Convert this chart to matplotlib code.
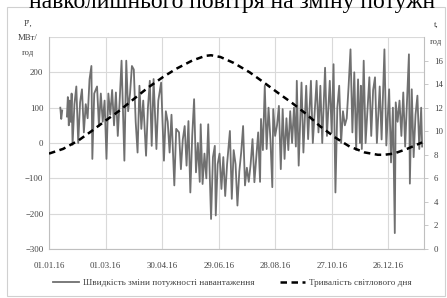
import numpy as np
import matplotlib
matplotlib.use("Agg")
import matplotlib.pyplot as plt
from matplotlib.patches import Rectangle

plt.rcParams['font.family'] = ['Liberation Serif', 'DejaVu Serif']

# days since 01.01.16 and rate of load change, MW/h
rate_days = [12, 13, 14, 16, 19, 20, 21, 22, 23, 24, 25, 27, 29, 31, 33, 35, 37, 39, 41, 43,
             45, 46, 48, 51, 53, 55, 57, 59, 61, 63, 65, 67, 69, 71, 73, 75, 77, 80, 82, 84,
             86, 88, 90, 92, 94, 96, 98, 100, 103, 105, 107, 109, 111, 114, 116, 119, 122, 124, 126, 128,
             130, 133, 135, 138, 140, 142, 144, 146, 148, 150, 152, 154, 156, 158, 160, 161, 163, 165, 167, 169,
             172, 174, 176, 177, 179, 181, 183, 185, 187, 189, 192, 194, 196, 198, 200, 202, 204, 206, 208, 210,
             212, 214, 216, 218, 220, 222, 224, 225, 227, 229, 231, 233, 235, 237, 238, 240, 242, 244, 246, 248,
             250, 252, 254, 256, 258, 260, 262, 263, 265, 268, 270, 273, 275, 278, 280, 284, 286, 288, 290, 293,
             295, 298, 300, 302, 304, 306, 308, 310, 312, 314, 316, 318, 320, 322, 324, 326, 328, 330, 331, 332,
             334, 336, 340, 342, 344, 346, 348, 351, 353, 356, 358, 360, 361, 363, 365, 367, 368, 370, 372, 374,
             376, 378, 382, 383, 385, 387, 389, 391, 393, 395, 396]
rate_vals = [100, 68, 92, np.nan, 75, 130, 50, 120, 60, 140, -5, 110, 160, 0, 115, 152, 30, 110, 70, 180,
             218, -45, 140, 160, 48, 140, 60, 120, -45, 140, 80, 150, 50, 143, 20, 120, 233, -50, 233, 90,
             140, 218, 208, 60, -27, 162, 40, 120, -36, 100, 176, -8, 181, -17, 120, 171, -50, 90, 60, -27,
             80, -120, 40, 30, -74, 10, 48, -64, 62, -140, 20, 124, -83, 0, -110, 53, -116, -30, -100, 53,
             -215, -40, -8, -205, -60, -30, -130, -40, -150, -60, 34, -158, -20, -60, -177, -80, -26, 48, -120, -70,
             -110, -60, 11, -111, -40, 30, -110, 68, -20, 162, -17, 100, 10, -125, 96, 20, 50, 105, -74, 96,
             -45, 70, -20, 90, 0, 100, -10, 176, -64, 171, -27, 162, 11, 176, 0, 176, 30, 162, 0, 213,
             20, 176, 30, 223, -140, 100, 162, 0, 90, 50, 70, 162, 265, 30, 200, -20, 180, 0, 162, -17,
             233, 0, 186, 20, 150, 186, 0, 160, 10, 265, -7, 100, 152, -55, 100, -255, 115, 60, 120, 20,
             143, -10, 251, -115, 152, -40, 80, 134, -17, 100, -10]

# daylight duration, hours
day_days = [0, 15, 31, 45, 60, 74, 91, 105, 121, 135, 152, 166, 172, 182, 196, 213, 227, 244,
            258, 274, 288, 305, 319, 335, 349, 356, 366, 380, 396]
day_vals = [8.1, 8.5, 9.2, 10.0, 10.9, 11.7, 12.8, 13.7, 14.6, 15.3, 16.0, 16.4, 16.45, 16.3, 15.8,
            15.0, 14.2, 13.2, 12.4, 11.4, 10.4, 9.4, 8.7, 8.2, 8.0, 8.0, 8.1, 8.5, 9.05]

tick_days = [0, 60, 120, 180, 240, 300, 360]
tick_labels = ['01.01.16', '01.03.16', '30.04.16', '29.06.16', '28.08.16', '27.10.16', '26.12.16']
left_ticks = [-300, -200, -100, 0, 100, 200]

txt = '#404040'
grid = '#d9d9d9'
fs = 6.3

fig = plt.figure(figsize=(4.47, 2.98), dpi=100)
fig.add_artist(Rectangle((7 / 447, 2 / 298), 438 / 447, 289 / 298, transform=fig.transFigure,
                         fill=False, edgecolor='#d0d0d0', lw=0.8))
fig.text(0.065, 1 - 8 / 298, 'навколишнього повітря на зміну потужн', fontsize=17,
         va='baseline', ha='left', color='black')

ax = fig.add_axes([49 / 447, 1 - 249 / 298, 375 / 447, 212 / 298])
ax.plot(rate_days, rate_vals, color='#707070', lw=1.3, label='Швидкість зміни потужності навантаження')
ax.set_xlim(0, 398)
ax.set_ylim(-300, 300)
ax.set_yticks(left_ticks)
ax.axhline(300, color=grid, lw=0.8, zorder=0)
ax.set_xticks(tick_days)
ax.set_xticklabels(tick_labels)
ax.grid(True, color=grid, lw=0.8)
ax.set_axisbelow(True)
for s in ['top', 'right']:
    ax.spines[s].set_visible(False)
for s in ['left', 'bottom']:
    ax.spines[s].set_color('#bfbfbf')
    ax.spines[s].set_linewidth(0.8)
ax.tick_params(axis='both', length=0, labelsize=fs, colors=txt)
ax.tick_params(axis='x', pad=9)
ax.tick_params(axis='y', pad=4)

ax2 = ax.twinx()
ax2.plot(day_days, day_vals, color='black', lw=1.8, dashes=(2.6, 1.8), label='Тривалість світлового дня')
ax2.set_ylim(0, 18)
ax2.set_yticks(range(0, 17, 2))
for s in ['top', 'left', 'bottom']:
    ax2.spines[s].set_visible(False)
ax2.spines['right'].set_color('#bfbfbf')
ax2.spines['right'].set_linewidth(0.8)
ax2.tick_params(axis='y', length=3, width=0.6, labelsize=fs, colors=txt, pad=4)
ax2.tick_params(axis='y', color='#bfbfbf')

fig.text(28 / 447, 1 - 24 / 298, "P',", fontsize=fs, ha='center', va='center', color=txt)
fig.text(28 / 447, 1 - 38 / 298, 'МВт/', fontsize=fs, ha='center', va='center', color=txt)
fig.text(28 / 447, 1 - 53 / 298, 'год', fontsize=fs, ha='center', va='center', color=txt)
fig.text(436 / 447, 1 - 25 / 298, 't,', fontsize=fs, ha='center', va='center', color=txt)
fig.text(436 / 447, 1 - 42 / 298, 'год', fontsize=fs, ha='center', va='center', color=txt)

h1, l1 = ax.get_legend_handles_labels()
h2, l2 = ax2.get_legend_handles_labels()
fig.legend(h1 + h2, l1 + l2, loc='center', bbox_to_anchor=(0.52, 1 - 283 / 298), ncol=2,
           frameon=False, fontsize=6.6, handlelength=2.8, columnspacing=2.8, handletextpad=0.4,
           labelcolor=txt)

fig.savefig('out.png', dpi=100)
